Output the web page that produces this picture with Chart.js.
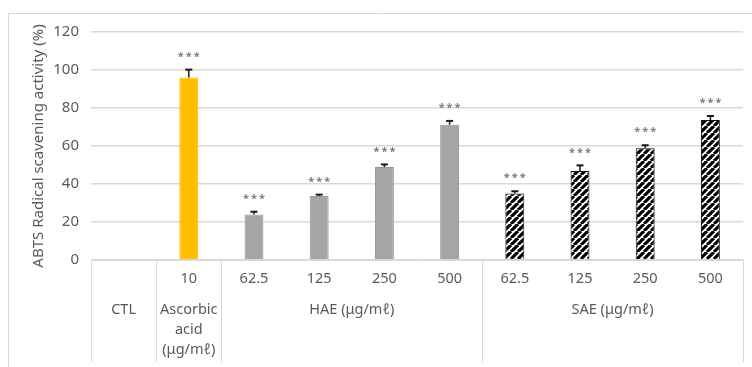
<!DOCTYPE html>
<html>
<head>
<meta charset="utf-8">
<script src="https://cdn.jsdelivr.net/npm/chart.js@4/dist/chart.umd.min.js"></script>
<style>
  html, body { margin: 0; padding: 0; background: #ffffff; }
  #wrap { width: 752px; height: 367px; position: relative; }
</style>
</head>
<body>
<div id="wrap"><canvas id="chart" width="752" height="367"></canvas></div>
<script>
// Tick labels along the x axis (concentration per bar)
const categories = ["", "10", "62.5", "125", "250", "500", "62.5", "125", "250", "500"];
// Mean ABTS radical scavenging activity (%)
const values = [null, 96, 24, 33.7, 48.9, 71.2, 35, 46.8, 58.8, 73.7];
// Upper error (SD)
const errors = [null, 4.2, 1.4, 0.7, 1.4, 2.0, 1.2, 3.0, 1.6, 2.1];
// Significance marks
const significance = ["", "***", "***", "***", "***", "***", "***", "***", "***", "***"];
// Sample group of each bar
const barGroup = ["CTL", "AA", "HAE", "HAE", "HAE", "HAE", "SAE", "SAE", "SAE", "SAE"];
// Group captions under the tick labels
const groupNames = ["CTL", "AA", "HAE", "SAE"];
const groupCaptions = [["CTL"], ["Ascorbic", "acid", "(\u03bcg/m\u2113)"], ["HAE (\u03bcg/m\u2113)"], ["SAE (\u03bcg/m\u2113)"]];
// Y axis tick values
const yTicks = [0, 20, 40, 60, 80, 100, 120];

const FONT = "'Noto Sans', 'Open Sans', sans-serif";
const TEXT = "#595959";
const GRID = "#d9d9d9";

function stripePattern() {
  const s = 7;
  const c = document.createElement("canvas");
  c.width = s; c.height = s;
  const g = c.getContext("2d");
  g.fillStyle = "#ffffff";
  g.fillRect(0, 0, s, s);
  g.strokeStyle = "#000000";
  g.lineWidth = 3.2;
  g.beginPath();
  for (let i = -s; i <= s; i += s) {
    g.moveTo(i, s);
    g.lineTo(i + s, 0);
  }
  g.stroke();
  return document.getElementById("chart").getContext("2d").createPattern(c, "repeat");
}
const stripes = stripePattern();

const fills = { CTL: "#ffffff", AA: "#ffc000", HAE: "#a5a5a5", SAE: stripes };
const borders = { CTL: "#ffffff", AA: "#f2b800", HAE: "#969696", SAE: "#111111" };

// Error bars and significance marks above each bar
const errorBarPlugin = {
  id: "errorBars",
  afterDatasetsDraw(chart) {
    const { ctx, scales: { x, y } } = chart;
    ctx.save();
    values.forEach((v, i) => {
      if (v == null) return;
      const cx = x.getPixelForValue(i);
      const yTop = y.getPixelForValue(v);
      const yErr = y.getPixelForValue(v + errors[i]);
      ctx.strokeStyle = "#1a1a1a";
      ctx.lineWidth = 1.5;
      ctx.beginPath();
      ctx.moveTo(cx, yTop);
      ctx.lineTo(cx, yErr);
      ctx.stroke();
      ctx.lineWidth = 2;
      ctx.beginPath();
      ctx.moveTo(cx - 3.5, yErr);
      ctx.lineTo(cx + 3.5, yErr);
      ctx.stroke();
      ctx.fillStyle = "#7a7a7a";
      ctx.font = "bold 11px " + FONT;
      ctx.letterSpacing = "2px";
      ctx.textAlign = "center";
      ctx.textBaseline = "middle";
      ctx.fillText(significance[i], cx + 1, yErr - 13);
    });
    ctx.restore();
  }
};

// Table-like x axis: separators, group captions and outer frame
const axisTablePlugin = {
  id: "axisTable",
  afterDraw(chart) {
    const { ctx, chartArea: a, scales: { x } } = chart;
    const H = chart.height;
    ctx.save();
    ctx.strokeStyle = GRID;
    ctx.lineWidth = 1;
    // outer frame
    ctx.beginPath();
    ctx.moveTo(8.5, H);
    ctx.lineTo(8.5, 13.5);
    ctx.lineTo(chart.width, 13.5);
    ctx.stroke();
    // group boundaries
    const half = (x.getPixelForValue(1) - x.getPixelForValue(0)) / 2;
    const bounds = [];
    groupNames.forEach((g, gi) => {
      const idx = barGroup.map((b, i) => (b === g ? i : -1)).filter(i => i >= 0);
      const left = x.getPixelForValue(idx[0]) - half;
      const right = x.getPixelForValue(idx[idx.length - 1]) + half;
      bounds.push(left, right);
      const cx = (left + right) / 2;
      ctx.fillStyle = TEXT;
      ctx.font = "14.5px " + FONT;
      ctx.textAlign = "center";
      ctx.textBaseline = "middle";
      groupCaptions[gi].forEach((line, li) => {
        ctx.fillText(line, cx, a.bottom + 50 + li * 20);
      });
    });
    const uniq = [...new Set(bounds.map(b => Math.round(b)))];
    ctx.beginPath();
    uniq.forEach(b => {
      ctx.moveTo(b + 0.5, a.bottom);
      ctx.lineTo(b + 0.5, a.bottom + 102);
    });
    ctx.stroke();
    ctx.restore();
  }
};

new Chart(document.getElementById("chart"), {
  type: "bar",
  data: {
    labels: categories,
    datasets: [{
      data: values,
      backgroundColor: barGroup.map(g => fills[g]),
      borderColor: barGroup.map(g => borders[g]),
      borderWidth: 1,
      categoryPercentage: 1,
      barPercentage: 0.29
    }]
  },
  options: {
    responsive: false,
    animation: false,
    events: [],
    layout: { padding: { left: 0, right: 9, top: 32, bottom: 0 } },
    plugins: { legend: { display: false }, tooltip: { enabled: false } },
    scales: {
      x: {
        grid: { display: false, drawTicks: false },
        border: { display: true, color: GRID, width: 1 },
        ticks: { color: TEXT, font: { family: FONT, size: 14.5 }, padding: 10, maxRotation: 0, autoSkip: false },
        afterFit(s) { s.height = 107; }
      },
      y: {
        min: 0, max: 120,
        afterBuildTicks(s) { s.ticks = yTicks.map(v => ({ value: v })); },
        grid: { color: GRID, lineWidth: 1.5, drawTicks: false },
        border: { display: false },
        ticks: { color: TEXT, font: { family: FONT, size: 15 }, padding: 12 },
        title: {
          display: true,
          text: "ABTS Radical scavening activity (%)",
          color: TEXT,
          font: { family: FONT, size: 15 },
          padding: { top: 30, bottom: 0 }
        },
        afterFit(s) { s.width = 91; }
      }
    }
  },
  plugins: [errorBarPlugin, axisTablePlugin]
});
</script>
</body>
</html>
